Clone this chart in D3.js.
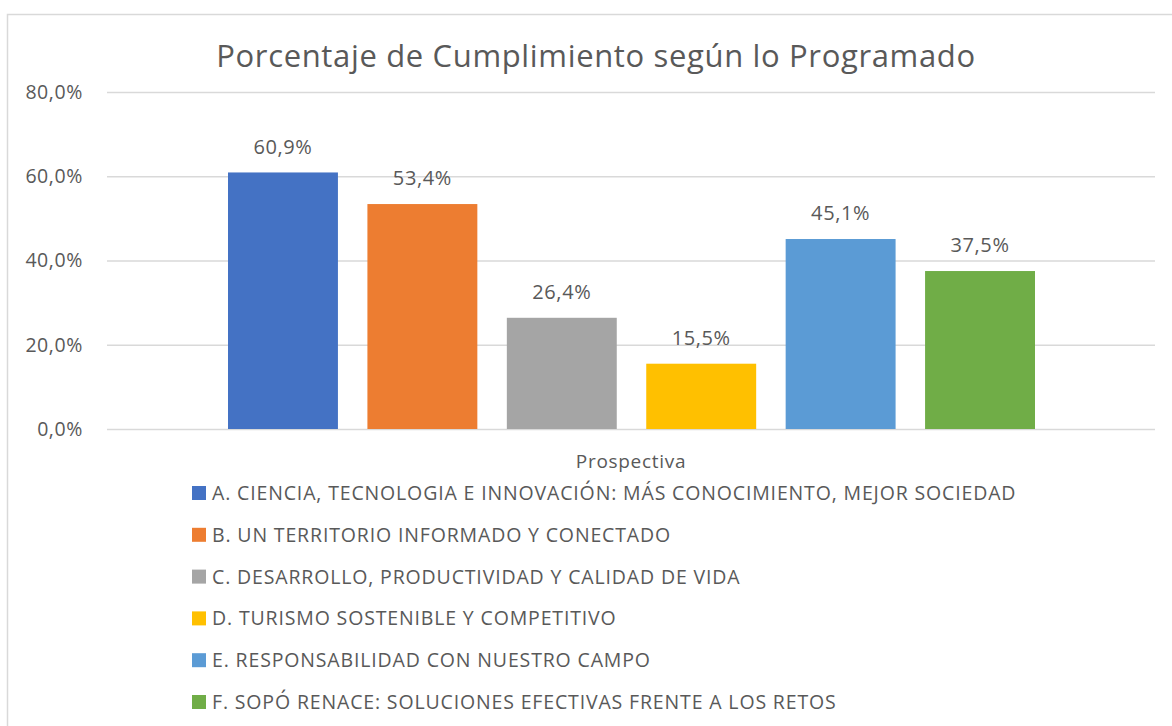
<!DOCTYPE html>
<html>
<head>
<meta charset="utf-8">
<script src="https://cdn.jsdelivr.net/npm/d3@7"></script>
<style>
  html, body { margin: 0; padding: 0; background: #fff; }
  svg { display: block; font-family: "Open Sans", "DejaVu Sans", sans-serif; }
</style>
</head>
<body>
<svg id="chart" width="1172" height="726"></svg>
<script>
const title = "Porcentaje de Cumplimiento según lo Programado";
const categoryLabel = "Prospectiva";
const series = [
  "A. CIENCIA, TECNOLOGIA E INNOVACIÓN: MÁS CONOCIMIENTO, MEJOR SOCIEDAD",
  "B. UN TERRITORIO INFORMADO Y CONECTADO",
  "C. DESARROLLO, PRODUCTIVIDAD Y CALIDAD DE VIDA",
  "D. TURISMO SOSTENIBLE Y COMPETITIVO",
  "E. RESPONSABILIDAD CON NUESTRO CAMPO",
  "F. SOPÓ RENACE: SOLUCIONES EFECTIVAS FRENTE A LOS RETOS"
];
const values = [60.9, 53.4, 26.4, 15.5, 45.1, 37.5];
const colors = ["#4472C4", "#ED7D31", "#A5A5A5", "#FFC000", "#5B9BD5", "#70AD47"];
const yTicks = [0, 20, 40, 60, 80];

const svg = d3.select("#chart");
const textColor = "#595959";
const fmt = v => d3.format(".1f")(v).replace(".", ",") + "%";

// chart border
svg.append("rect").attr("x", 7.5).attr("y", 14.5).attr("width", 1200).attr("height", 800)
  .attr("fill", "none").attr("stroke", "#D9D9D9").attr("stroke-width", 1.5);

const plot = { left: 107, right: 1155, top: 92, bottom: 429 };
const y = d3.scaleLinear().domain([0, 80]).range([plot.bottom, plot.top]);
const x = d3.scaleBand().domain(series).range([228, 1035]).paddingInner(0.2115).paddingOuter(0);

// gridlines + tick labels
const yAxis = d3.axisLeft(y).tickValues(yTicks).tickSize(-(plot.right - plot.left)).tickFormat(d => fmt(d)).tickPadding(24);
const gAxis = svg.append("g").attr("transform", `translate(${plot.left},0)`).call(yAxis);
gAxis.select(".domain").remove();
gAxis.selectAll(".tick line").attr("stroke", "#D9D9D9").attr("stroke-width", 1.3);
gAxis.selectAll(".tick text").attr("fill", textColor).attr("font-size", 19.5)
  .attr("letter-spacing", 0.6).attr("font-family", "Open Sans");

// bars
svg.append("g").selectAll("rect").data(values).join("rect")
  .attr("x", (d, i) => x(series[i]))
  .attr("y", d => y(d))
  .attr("width", x.bandwidth())
  .attr("height", d => y(0) - y(d))
  .attr("fill", (d, i) => colors[i]);

// value labels
svg.append("g").selectAll("text").data(values).join("text")
  .attr("x", (d, i) => x(series[i]) + x.bandwidth() / 2)
  .attr("y", d => y(d) - 18.7)
  .attr("text-anchor", "middle")
  .attr("fill", textColor)
  .attr("font-size", 20)
  .attr("letter-spacing", 0.6)
  .text(d => fmt(d));

// title
svg.append("text").attr("x", 596).attr("y", 67).attr("text-anchor", "middle")
  .attr("fill", textColor).attr("font-size", 31).attr("letter-spacing", 0.65).text(title);

// category label
svg.append("text").attr("x", 631).attr("y", 468).attr("text-anchor", "middle")
  .attr("fill", textColor).attr("font-size", 19).attr("letter-spacing", 0.7).text(categoryLabel);

// legend
const lg = svg.append("g");
const rows = lg.selectAll("g").data(series).join("g")
  .attr("transform", (d, i) => `translate(192, ${493 + i * 41.8})`);
rows.append("rect").attr("x", 0).attr("y", -7).attr("width", 14).attr("height", 14)
  .attr("fill", (d, i) => colors[i]);
rows.append("text").attr("x", 20).attr("y", 7).attr("fill", textColor)
  .attr("font-size", 19.5).attr("letter-spacing", 0.85).text(d => d);
</script>
</body>
</html>
